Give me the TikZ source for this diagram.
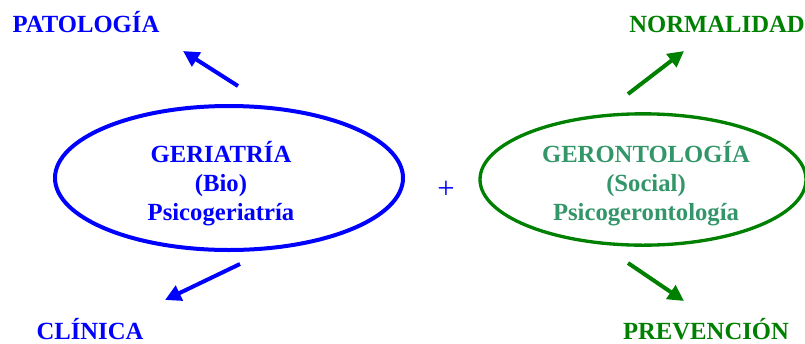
\documentclass[tikz,border=0pt]{standalone}
\usepackage{fontspec}
\setmainfont{Liberation Serif}
\usetikzlibrary{arrows.meta,shapes.geometric}
\definecolor{cblue}{RGB}{0,0,255}
\definecolor{cgreen}{RGB}{0,128,0}
\definecolor{cteal}{RGB}{51,150,105}
\begin{document}
\begin{tikzpicture}[x=0.75pt,y=-0.75pt,
  lbl/.style={font=\fontsize{18.5}{21.75}\selectfont\bfseries, inner sep=0pt, anchor=base},
  inner/.style={font=\fontsize{18.5}{21.75}\selectfont\bfseries, align=center, inner sep=0pt},
  oval/.style={ellipse, draw, inner sep=0pt},
  arr/.style={line width=3pt, -{Triangle[length=12pt,width=12pt]}}]
\useasboundingbox (0,0) rectangle (805,343);
% blue side
\node[oval, cblue, line width=3pt, minimum width=261pt, minimum height=108pt] (geri) at (229,178) {};
\node[inner, cblue] (geritxt) at (221,184) {GERIATRÍA\\(Bio)\\Psicogeriatría};
\node[lbl, cblue] (pat) at (86,32) {PATOLOGÍA};
\node[lbl, cblue] (cli) at (90,339) {CLÍNICA};
\coordinate (b1s) at (238,86);
\coordinate (b1e) at (183,51);
\coordinate (b2s) at (240,264);
\coordinate (b2e) at (165,300);
\draw[arr, cblue] (b1s) -- (b1e);
\draw[arr, cblue] (b2s) -- (b2e);
% plus
\node[cblue, font=\fontsize{23}{26}\selectfont, inner sep=0pt] (plus) at (446,190) {+};
% green side
\node[oval, cgreen, line width=2.5pt, minimum width=244.5pt, minimum height=98.5pt] (geron) at (643,179.5) {};
\node[inner, cteal] (gerontxt) at (646,184) {GERONTOLOGÍA\\(Social)\\Psicogerontología};
\node[lbl, cgreen] (nor) at (717,32) {NORMALIDAD};
\node[lbl, cgreen] (pre) at (706,339) {PREVENCIÓN};
\coordinate (g1s) at (628,94);
\coordinate (g1e) at (684,51);
\coordinate (g2s) at (628,263);
\coordinate (g2e) at (684,301);
\draw[arr, cgreen] (g1s) -- (g1e);
\draw[arr, cgreen] (g2s) -- (g2e);
\end{tikzpicture}
\end{document}
